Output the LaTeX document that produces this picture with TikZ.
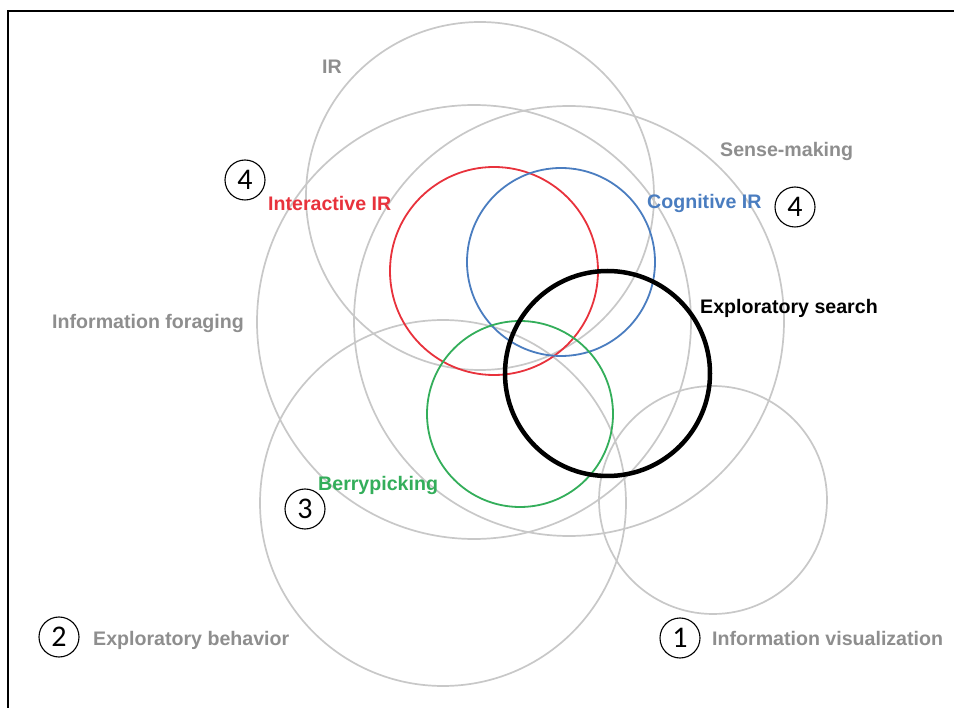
\documentclass[tikz,border=0pt]{standalone}
\usepackage{fontspec}
\setmainfont{Liberation Sans}
\newfontfamily\digitfont{Carlito}
\definecolor{ringgray}{HTML}{C8C8C8}
\definecolor{labelgray}{HTML}{8E8E8E}
\definecolor{irred}{HTML}{E8323C}
\definecolor{irblue}{HTML}{4A7DC0}
\definecolor{bpgreen}{HTML}{33AE5A}
\tikzset{
  ring/.style={draw=ringgray, line width=1.7pt},
  lab/.style={font=\fontsize{19.6}{22}\selectfont\bfseries, inner sep=0pt, anchor=base west},
  numc/.style={draw=black, line width=1.1pt, circle, minimum size=40pt, inner sep=0pt,
               font=\digitfont\fontsize{30}{32}\selectfont},
}
\begin{document}
\begin{tikzpicture}[x=1pt,y=-1pt]
\useasboundingbox (0,0) rectangle (954,708);
\fill[white] (0,0) rectangle (954,708);
% frame
\draw[line width=2.4pt] (8,708) -- (8,11) -- (954,11);
% gray rings
\draw[ring] (480,196) circle[radius=174pt];   % IR
\draw[ring] (474,322) circle[radius=217pt];   % Information foraging
\draw[ring] (569,321) circle[radius=215pt];   % Sense-making
\draw[ring] (443,503) circle[radius=183pt];   % Exploratory behavior
\draw[ring] (713,500) circle[radius=114pt];   % Information visualization
% coloured rings
\draw[irred, line width=1.8pt] (494,271) circle[radius=104pt];
\draw[irblue, line width=1.8pt] (561,262) circle[radius=94pt];
\draw[bpgreen, line width=1.8pt] (520,414) circle[radius=93pt];
\draw[black, line width=4.5pt] (607.5,373.5) circle[radius=102.5pt];
% labels
\node[lab, text=labelgray] (lir) at (322,74) {IR};
\node[lab, text=labelgray] (lsm) at (720,157) {Sense-making};
\node[lab, text=irred] (lii) at (268,211) {Interactive IR};
\node[lab, text=irblue] (lci) at (647,209) {Cognitive IR};
\node[lab, text=labelgray] (lif) at (52,329) {Information foraging};
\node[lab, text=black] (les) at (700,314) {Exploratory search};
\node[lab, text=bpgreen] (lbp) at (318,491) {Berrypicking};
\node[lab, text=labelgray] (leb) at (93,645) {Exploratory behavior};
\node[lab, text=labelgray] (liv) at (712,645) {Information visualization};
% numbered circles
\node[numc] (n4a) at (245,180) {4};
\node[numc] (n4b) at (795,207) {4};
\node[numc] (n3) at (305,509) {3};
\node[numc] (n2) at (59,637) {2};
\node[numc] (n1) at (680,638) {1};
\end{tikzpicture}
\end{document}
